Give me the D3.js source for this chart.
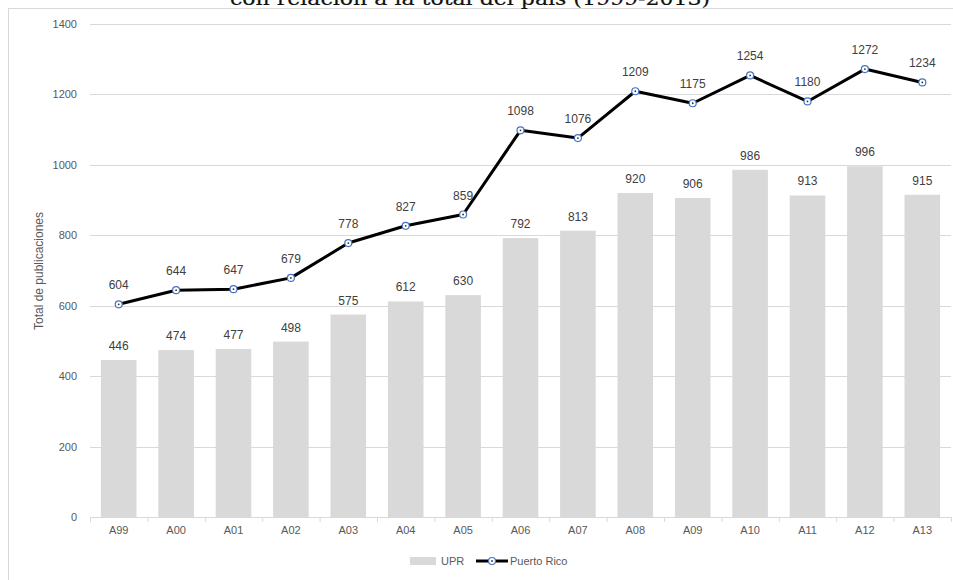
<!DOCTYPE html>
<html>
<head>
<meta charset="utf-8">
<script src="https://cdn.jsdelivr.net/npm/d3@7/dist/d3.min.js"></script>
<style>
  html, body { margin: 0; padding: 0; background: #fff; }
  svg { display: block; }
</style>
</head>
<body>
<svg id="chart" width="953" height="580"></svg>
<script>
// Publications per year: UPR vs. Puerto Rico total
const years = ["A99","A00","A01","A02","A03","A04","A05","A06","A07","A08","A09","A10","A11","A12","A13"];
const uprValues = [446, 474, 477, 498, 575, 612, 630, 792, 813, 920, 906, 986, 913, 996, 915];
const prValues  = [604, 644, 647, 679, 778, 827, 859, 1098, 1076, 1209, 1175, 1254, 1180, 1272, 1234];
const yTicks = [0, 200, 400, 600, 800, 1000, 1200, 1400];

const svg = d3.select("#chart");
const font = "Liberation Sans, Arial, sans-serif";

// outer chart frame (runs past the right and bottom edges)
svg.append("rect")
  .attr("x", 8.5).attr("y", 8.5)
  .attr("width", 960).attr("height", 600)
  .attr("fill", "none").attr("stroke", "#d9d9d9").attr("stroke-width", 1);

// title (partly above the frame)
svg.append("text")
  .attr("x", 470).attr("y", 4.5)
  .attr("text-anchor", "middle")
  .attr("font-family", "DejaVu Serif, serif")
  .attr("font-weight", "normal")
  .attr("font-size", 19)
  .attr("textLength", 480)
  .attr("lengthAdjust", "spacingAndGlyphs")
  .attr("fill", "#111")
  .attr("stroke", "#111").attr("stroke-width", 0.2)
  .text("con relación a la total del país (1999-2013)");

const x0 = 90, x1 = 951;
const x = d3.scaleBand().domain(years).range([x0, x1]).paddingInner(0.38).paddingOuter(0.19);
const y = d3.scaleLinear().domain([0, 1400]).range([517, 24]);

// horizontal gridlines
svg.append("g").selectAll("line").data(yTicks).join("line")
  .attr("x1", x0).attr("x2", x1)
  .attr("y1", d => Math.round(y(d)) + 0.5).attr("y2", d => Math.round(y(d)) + 0.5)
  .attr("stroke", "#d9d9d9").attr("stroke-width", 1);

// y axis labels
const yAxis = d3.axisLeft(y).tickValues(yTicks).tickSize(0).tickPadding(0).tickFormat(d3.format("d"));
const yG = svg.append("g").attr("transform", "translate(77,0)").call(yAxis);
yG.select(".domain").remove();
yG.selectAll("text")
  .attr("font-family", font).attr("font-size", 11).attr("fill", "#595959");

// y axis title
svg.append("text")
  .attr("transform", "translate(43,271) rotate(-90)")
  .attr("text-anchor", "middle")
  .attr("font-family", font).attr("font-size", 12).attr("fill", "#595959")
  .text("Total de publicaciones");

// bars
svg.append("g").selectAll("rect").data(uprValues).join("rect")
  .attr("x", (d, i) => x(years[i]))
  .attr("width", x.bandwidth())
  .attr("y", d => y(d))
  .attr("height", d => y(0) - y(d))
  .attr("fill", "#d9d9d9");

// x axis
const xAxis = d3.axisBottom(x).tickSize(0).tickPadding(9);
const xG = svg.append("g").attr("transform", `translate(0,${y(0)})`).call(xAxis);
xG.select(".domain").attr("stroke", "#d9d9d9");
xG.selectAll("text").attr("font-family", font).attr("font-size", 11).attr("fill", "#595959");
// category separator ticks
const step = x.step();
const edges = d3.range(years.length + 1).map(i => x0 + 0.5 + i * step);
xG.selectAll("line.sep").data(edges).join("line").attr("class", "sep")
  .attr("x1", d => d).attr("x2", d => d).attr("y1", 0).attr("y2", 5)
  .attr("stroke", "#d9d9d9");

// bar value labels
svg.append("g").selectAll("text").data(uprValues).join("text")
  .attr("x", (d, i) => x(years[i]) + x.bandwidth() / 2)
  .attr("y", d => y(d) - 10)
  .attr("text-anchor", "middle")
  .attr("font-family", font).attr("font-size", 12).attr("fill", "#404040")
  .text(d => d);

// Puerto Rico line
const cx = (d, i) => x(years[i]) + x.bandwidth() / 2;
const line = d3.line().x((d, i) => cx(d, i)).y(d => y(d));
svg.append("path").datum(prValues)
  .attr("d", line).attr("fill", "none")
  .attr("stroke", "#000").attr("stroke-width", 3).attr("stroke-linejoin", "round");

// markers
const mk = svg.append("g").selectAll("g").data(prValues).join("g")
  .attr("transform", (d, i) => `translate(${cx(d, i)},${y(d)})`);
mk.append("circle").attr("r", 3.5).attr("fill", "#fff").attr("stroke", "#4472c4").attr("stroke-width", 1.2);
mk.append("circle").attr("r", 0.9).attr("fill", "#333");

// line value labels
svg.append("g").selectAll("text").data(prValues).join("text")
  .attr("x", (d, i) => cx(d, i))
  .attr("y", d => y(d) - 15)
  .attr("text-anchor", "middle")
  .attr("font-family", font).attr("font-size", 12).attr("fill", "#404040")
  .text(d => d);

// legend
const lg = svg.append("g").attr("transform", "translate(0,561)");
lg.append("rect").attr("x", 410).attr("y", -4).attr("width", 26).attr("height", 8).attr("fill", "#d9d9d9");
lg.append("text").attr("x", 441).attr("y", 4)
  .attr("font-family", font).attr("font-size", 11).attr("fill", "#595959").text("UPR");
lg.append("line").attr("x1", 476).attr("x2", 508).attr("y1", 0).attr("y2", 0)
  .attr("stroke", "#000").attr("stroke-width", 3);
lg.append("circle").attr("cx", 492).attr("cy", 0).attr("r", 3.5)
  .attr("fill", "#fff").attr("stroke", "#4472c4").attr("stroke-width", 1.2);
lg.append("circle").attr("cx", 492).attr("cy", 0).attr("r", 0.9).attr("fill", "#333");
lg.append("text").attr("x", 510).attr("y", 4)
  .attr("font-family", font).attr("font-size", 11).attr("fill", "#595959").text("Puerto Rico");
</script>
</body>
</html>
